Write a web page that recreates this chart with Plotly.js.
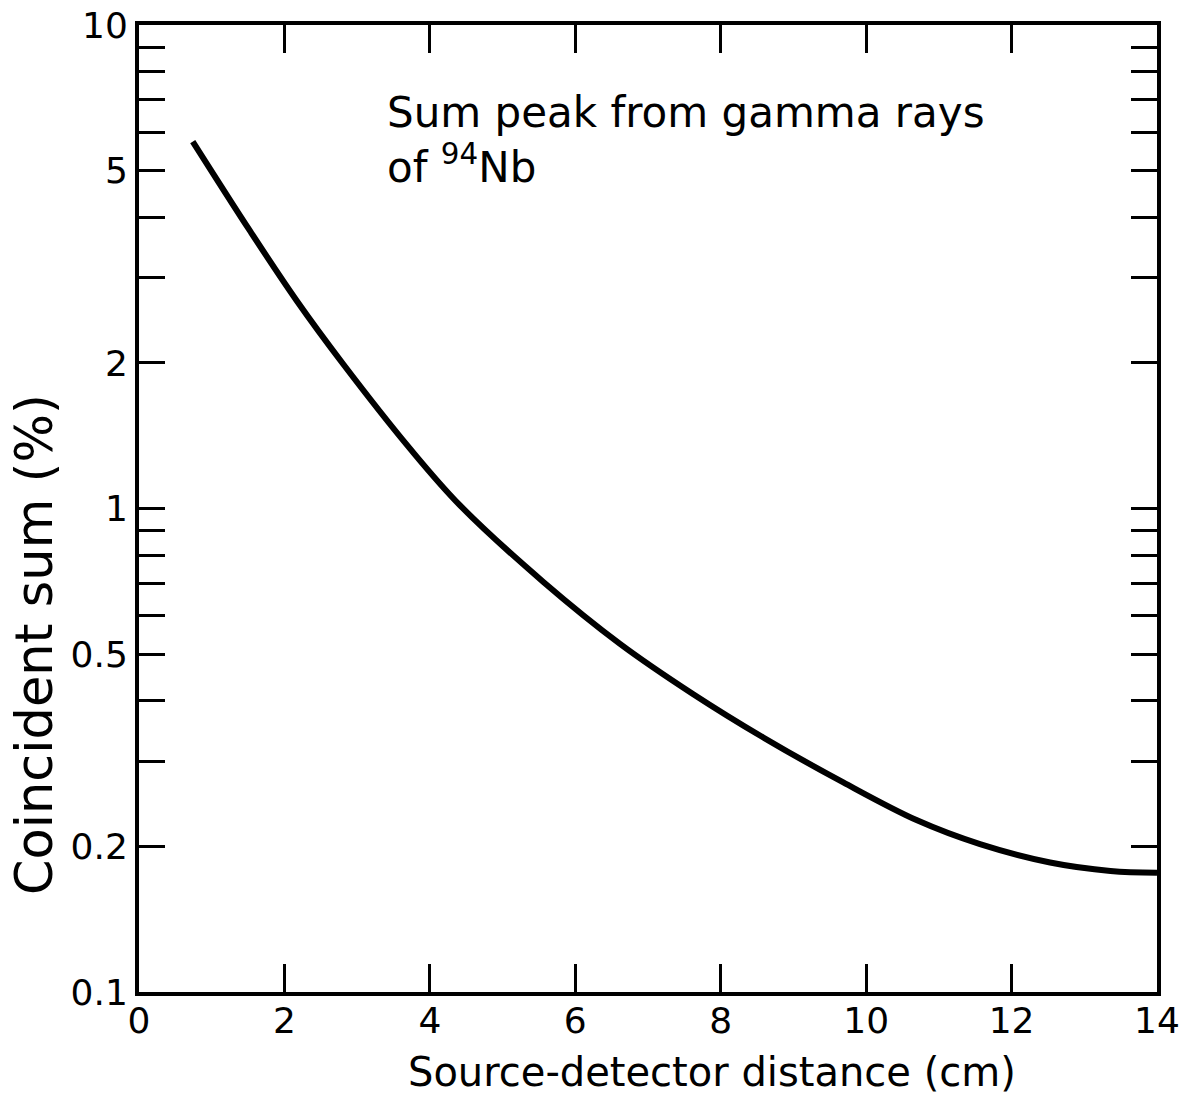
<!DOCTYPE html>
<html>
<head>
<meta charset="utf-8">
<script src="https://cdn.plot.ly/plotly-3.0.1.min.js"></script>
<style>html,body{margin:0;padding:0;background:#fff;}#chart{width:1186px;height:1094px;}</style>
</head>
<body>
<div id="chart"></div>
<script>
// Source-detector distance (cm)
const distance = [0.739, 1.527, 2.169, 2.810, 3.727, 4.415, 5.561, 6.615, 7.623, 8.586, 9.686, 10.70, 11.566, 12.53, 13.36, 14.0];
// Coincident sum (%)
const coincidentSum = [5.74, 3.75, 2.69, 1.988, 1.33, 1.015, 0.705, 0.525, 0.413, 0.336, 0.2713, 0.2265, 0.2022, 0.1853, 0.178, 0.1765];

const xTickVals = [0, 2, 4, 6, 8, 10, 12, 14];
const xTickText = ["0", "2", "4", "6", "8", "10", "12", "14"];
const yTickVals = [0.1, 0.2, 0.3, 0.4, 0.5, 0.6, 0.7, 0.8, 0.9, 1, 2, 3, 4, 5, 6, 7, 8, 9, 10];
const yTickText = ["0.1", "0.2", "", "", "0.5", "", "", "", "", "1", "2", "", "", "5", "", "", "", "", "10"];

const xTitle = "Source-detector distance (cm)";
const yTitle = "Coincident sum (%)";
const note = "Sum peak from gamma rays<br>of <sup>94</sup>Nb";

const fontFam = "DejaVu Sans, Liberation Sans, sans-serif";

const trace = {
  x: distance,
  y: coincidentSum,
  type: "scatter",
  mode: "lines",
  line: {color: "#000", width: 6, shape: "spline", smoothing: 1.0},
  hoverinfo: "skip"
};

const layout = {
  width: 1186,
  height: 1094,
  margin: {l: 139, r: 29, t: 25, b: 102},
  paper_bgcolor: "#fff",
  plot_bgcolor: "#fff",
  showlegend: false,
  font: {family: fontFam, color: "#000", size: 34},
  xaxis: {
    range: [0, 14],
    tickmode: "array",
    tickvals: xTickVals,
    ticktext: xTickText,
    ticks: "inside",
    ticklen: 28,
    tickwidth: 3,
    tickcolor: "#000",
    ticklabelstandoff: -6,
    showline: true,
    linewidth: 4,
    linecolor: "#000",
    mirror: "ticks",
    showgrid: false,
    zeroline: false,
    tickfont: {size: 36}
  },
  yaxis: {
    type: "log",
    range: [-1, 1],
    tickmode: "array",
    tickvals: yTickVals,
    ticktext: yTickText,
    ticks: "inside",
    ticklen: 26,
    tickwidth: 3,
    tickcolor: "#000",
    showline: true,
    linewidth: 4,
    linecolor: "#000",
    mirror: "ticks",
    showgrid: false,
    zeroline: false,
    tickfont: {size: 36}
  },
  annotations: [{
    text: note,
    xref: "x", yref: "paper",
    x: 3.38, y: 0.937,
    xanchor: "left", yanchor: "top",
    align: "left",
    showarrow: false,
    font: {size: 42, family: fontFam}
  }, {
    text: xTitle,
    xref: "paper", yref: "paper",
    x: 0.563, y: -0.0825,
    xanchor: "center", yanchor: "middle",
    showarrow: false,
    font: {size: 40, family: fontFam}
  }, {
    text: yTitle,
    xref: "paper", yref: "paper",
    x: -0.102, y: 0.359,
    xanchor: "center", yanchor: "middle",
    textangle: -90,
    showarrow: false,
    font: {size: 51, family: fontFam}
  }]
};

Plotly.newPlot("chart", [trace], layout, {displayModeBar: false, staticPlot: true});
</script>
</body>
</html>
